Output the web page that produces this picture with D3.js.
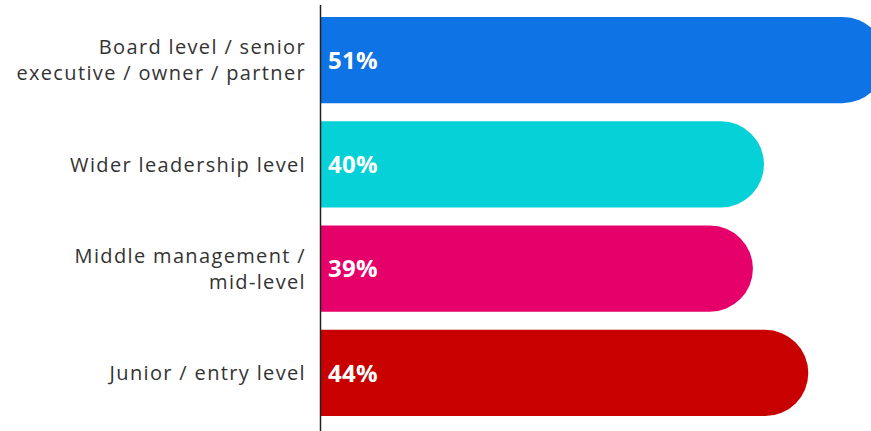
<!DOCTYPE html>
<html><head><meta charset="utf-8">
<script src="https://cdn.jsdelivr.net/npm/d3@7"></script>
<style>body{margin:0;background:#fff}svg{display:block}</style>
</head><body>
<script>
const categories = [
  ["Board level / senior", "executive / owner / partner"],
  ["Wider leadership level"],
  ["Middle management /", "mid-level"],
  ["Junior / entry level"]
];
const values = [51, 40, 39, 44];
const colors = ["#0E73E4", "#05D1D6", "#E6006A", "#C80000"];

const W = 871, H = 431;
const x0 = 321;
const svg = d3.select("body").append("svg").attr("width", W).attr("height", H);

const x = d3.scaleLinear().domain([0, 40]).range([x0, x0 + 443]);
const y = d3.scaleBand().domain(d3.range(values.length)).range([17, 416]).paddingInner(0.174).paddingOuter(0);
const bh = y.bandwidth();

const g = svg.append("g");

values.forEach((v, i) => {
  const top = y(i), w = x(v) - x0, r = bh / 2;
  const p = d3.path();
  p.moveTo(x0, top);
  p.lineTo(x0 + w - r, top);
  p.arc(x0 + w - r, top + r, r, -Math.PI / 2, Math.PI / 2);
  p.lineTo(x0, top + bh);
  p.closePath();
  g.append("path").attr("d", p.toString()).attr("fill", colors[i]);
  g.append("text").attr("x", x0 + 7).attr("y", top + bh / 2).attr("dy", "0.36em")
    .attr("fill", "#fff").attr("font-family", "'Open Sans', sans-serif").attr("font-weight", 700)
    .attr("font-size", 24).attr("letter-spacing", 0.3).text(v + "%");
  const lines = categories[i];
  const lh = 26;
  lines.forEach((t, j) => {
    g.append("text").attr("x", 306).attr("text-anchor", "end")
      .attr("y", top + bh / 2 + (j - (lines.length - 1) / 2) * lh).attr("dy", "0.36em")
      .attr("fill", "#333").attr("font-family", "'Open Sans', sans-serif").attr("font-size", 20)
      .attr("letter-spacing", 1.35)
      .text(t);
  });
});

svg.append("line").attr("x1", 320.5).attr("x2", 320.5).attr("y1", 5).attr("y2", H)
  .attr("stroke", "#222").attr("stroke-width", 1.5);
</script>
</body></html>
